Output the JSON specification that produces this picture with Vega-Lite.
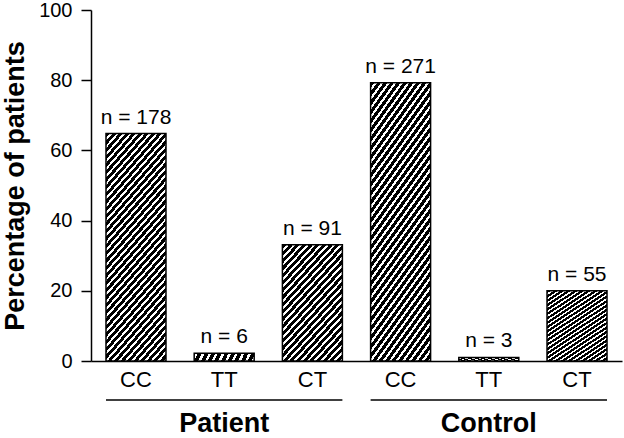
{
  "$schema": "https://vega.github.io/schema/vega-lite/v6.json",
  "autosize": "none",
  "width": 531,
  "height": 351,
  "padding": {"left": 91, "top": 10, "right": 2, "bottom": 77},
  "background": "white",
  "config": {
    "view": {"stroke": null},
    "font": "Liberation Sans",
    "axis": {"grid": false, "domainColor": "black", "domainWidth": 1.5, "tickColor": "black", "tickWidth": 1.5, "labelColor": "black", "titleColor": "black", "labelFont": "Liberation Sans", "titleFont": "Liberation Sans"}
  },
  "datasets": {
    "bars": [
      {"group": "Patient", "genotype": "CC", "key": "Patient|CC", "pct": 64.8, "label": "n = 178"},
      {"group": "Patient", "genotype": "TT", "key": "Patient|TT", "pct": 2.2, "label": "n = 6"},
      {"group": "Patient", "genotype": "CT", "key": "Patient|CT", "pct": 33.1, "label": "n = 91"},
      {"group": "Control", "genotype": "CC", "key": "Control|CC", "pct": 79.3, "label": "n = 271"},
      {"group": "Control", "genotype": "TT", "key": "Control|TT", "pct": 1.0, "label": "n = 3"},
      {"group": "Control", "genotype": "CT", "key": "Control|CT", "pct": 20.0, "label": "n = 55"}
    ],
    "groups": [
      {"group": "Patient", "first": "Patient|CC", "mid": "Patient|TT", "last": "Patient|CT"},
      {"group": "Control", "first": "Control|CC", "mid": "Control|TT", "last": "Control|CT"}
    ]
  },
  "layer": [
    {
      "data": {"name": "bars"},
      "mark": {"type": "bar", "stroke": "black", "strokeWidth": 1.5},
      "encoding": {
        "x": {
          "field": "key", "type": "nominal",
          "scale": {"domain": ["Patient|CC", "Patient|TT", "Patient|CT", "Control|CC", "Control|TT", "Control|CT"], "paddingInner": 0.32, "paddingOuter": 0.17},
          "axis": {"title": null, "ticks": false, "labelAngle": 0, "labelFontSize": 22, "labelPadding": 8, "labelExpr": "split(datum.value, '|')[1]"}
        },
        "y": {
          "field": "pct", "type": "quantitative",
          "scale": {"domain": [0, 100], "nice": false},
          "axis": {"title": "Percentage of patients", "titleFontSize": 27, "titleFontWeight": "bold", "titlePadding": 9, "values": [0, 20, 40, 60, 80, 100], "tickSize": 10, "labelFontSize": 20, "labelPadding": 9}
        },
        "fill": {
          "condition": {
            "test": "datum.pct < 50",
            "value": {
              "gradient": "linear",
              "x1": 0, "y1": 0, "x2": 0.668, "y2": 1.187,
              "stops": [
                {"offset": 0.0, "color": "#000"}, {"offset": 0.024, "color": "#000"}, {"offset": 0.024, "color": "#fff"}, {"offset": 0.04, "color": "#fff"},
                {"offset": 0.04, "color": "#000"}, {"offset": 0.064, "color": "#000"}, {"offset": 0.064, "color": "#fff"}, {"offset": 0.08, "color": "#fff"},
                {"offset": 0.08, "color": "#000"}, {"offset": 0.104, "color": "#000"}, {"offset": 0.104, "color": "#fff"}, {"offset": 0.12, "color": "#fff"},
                {"offset": 0.12, "color": "#000"}, {"offset": 0.144, "color": "#000"}, {"offset": 0.144, "color": "#fff"}, {"offset": 0.16, "color": "#fff"},
                {"offset": 0.16, "color": "#000"}, {"offset": 0.184, "color": "#000"}, {"offset": 0.184, "color": "#fff"}, {"offset": 0.2, "color": "#fff"},
                {"offset": 0.2, "color": "#000"}, {"offset": 0.224, "color": "#000"}, {"offset": 0.224, "color": "#fff"}, {"offset": 0.24, "color": "#fff"},
                {"offset": 0.24, "color": "#000"}, {"offset": 0.264, "color": "#000"}, {"offset": 0.264, "color": "#fff"}, {"offset": 0.28, "color": "#fff"},
                {"offset": 0.28, "color": "#000"}, {"offset": 0.304, "color": "#000"}, {"offset": 0.304, "color": "#fff"}, {"offset": 0.32, "color": "#fff"},
                {"offset": 0.32, "color": "#000"}, {"offset": 0.344, "color": "#000"}, {"offset": 0.344, "color": "#fff"}, {"offset": 0.36, "color": "#fff"},
                {"offset": 0.36, "color": "#000"}, {"offset": 0.384, "color": "#000"}, {"offset": 0.384, "color": "#fff"}, {"offset": 0.4, "color": "#fff"},
                {"offset": 0.4, "color": "#000"}, {"offset": 0.424, "color": "#000"}, {"offset": 0.424, "color": "#fff"}, {"offset": 0.44, "color": "#fff"},
                {"offset": 0.44, "color": "#000"}, {"offset": 0.464, "color": "#000"}, {"offset": 0.464, "color": "#fff"}, {"offset": 0.48, "color": "#fff"},
                {"offset": 0.48, "color": "#000"}, {"offset": 0.504, "color": "#000"}, {"offset": 0.504, "color": "#fff"}, {"offset": 0.52, "color": "#fff"},
                {"offset": 0.52, "color": "#000"}, {"offset": 0.544, "color": "#000"}, {"offset": 0.544, "color": "#fff"}, {"offset": 0.56, "color": "#fff"},
                {"offset": 0.56, "color": "#000"}, {"offset": 0.584, "color": "#000"}, {"offset": 0.584, "color": "#fff"}, {"offset": 0.6, "color": "#fff"},
                {"offset": 0.6, "color": "#000"}, {"offset": 0.624, "color": "#000"}, {"offset": 0.624, "color": "#fff"}, {"offset": 0.64, "color": "#fff"},
                {"offset": 0.64, "color": "#000"}, {"offset": 0.664, "color": "#000"}, {"offset": 0.664, "color": "#fff"}, {"offset": 0.68, "color": "#fff"},
                {"offset": 0.68, "color": "#000"}, {"offset": 0.704, "color": "#000"}, {"offset": 0.704, "color": "#fff"}, {"offset": 0.72, "color": "#fff"},
                {"offset": 0.72, "color": "#000"}, {"offset": 0.744, "color": "#000"}, {"offset": 0.744, "color": "#fff"}, {"offset": 0.76, "color": "#fff"},
                {"offset": 0.76, "color": "#000"}, {"offset": 0.784, "color": "#000"}, {"offset": 0.784, "color": "#fff"}, {"offset": 0.8, "color": "#fff"},
                {"offset": 0.8, "color": "#000"}, {"offset": 0.824, "color": "#000"}, {"offset": 0.824, "color": "#fff"}, {"offset": 0.84, "color": "#fff"},
                {"offset": 0.84, "color": "#000"}, {"offset": 0.864, "color": "#000"}, {"offset": 0.864, "color": "#fff"}, {"offset": 0.88, "color": "#fff"},
                {"offset": 0.88, "color": "#000"}, {"offset": 0.904, "color": "#000"}, {"offset": 0.904, "color": "#fff"}, {"offset": 0.92, "color": "#fff"},
                {"offset": 0.92, "color": "#000"}, {"offset": 0.944, "color": "#000"}, {"offset": 0.944, "color": "#fff"}, {"offset": 0.96, "color": "#fff"},
                {"offset": 0.96, "color": "#000"}, {"offset": 0.984, "color": "#000"}, {"offset": 0.984, "color": "#fff"}, {"offset": 1.0, "color": "#fff"}
              ]
            }
          },
          "value": {
            "gradient": "linear",
            "x1": 0, "y1": 0, "x2": 0.356, "y2": 1.192,
            "stops": [
              {"offset": 0.0, "color": "#000"}, {"offset": 0.015, "color": "#000"}, {"offset": 0.015, "color": "#fff"}, {"offset": 0.025, "color": "#fff"},
              {"offset": 0.025, "color": "#000"}, {"offset": 0.04, "color": "#000"}, {"offset": 0.04, "color": "#fff"}, {"offset": 0.05, "color": "#fff"},
              {"offset": 0.05, "color": "#000"}, {"offset": 0.065, "color": "#000"}, {"offset": 0.065, "color": "#fff"}, {"offset": 0.075, "color": "#fff"},
              {"offset": 0.075, "color": "#000"}, {"offset": 0.09, "color": "#000"}, {"offset": 0.09, "color": "#fff"}, {"offset": 0.1, "color": "#fff"},
              {"offset": 0.1, "color": "#000"}, {"offset": 0.115, "color": "#000"}, {"offset": 0.115, "color": "#fff"}, {"offset": 0.125, "color": "#fff"},
              {"offset": 0.125, "color": "#000"}, {"offset": 0.14, "color": "#000"}, {"offset": 0.14, "color": "#fff"}, {"offset": 0.15, "color": "#fff"},
              {"offset": 0.15, "color": "#000"}, {"offset": 0.165, "color": "#000"}, {"offset": 0.165, "color": "#fff"}, {"offset": 0.175, "color": "#fff"},
              {"offset": 0.175, "color": "#000"}, {"offset": 0.19, "color": "#000"}, {"offset": 0.19, "color": "#fff"}, {"offset": 0.2, "color": "#fff"},
              {"offset": 0.2, "color": "#000"}, {"offset": 0.215, "color": "#000"}, {"offset": 0.215, "color": "#fff"}, {"offset": 0.225, "color": "#fff"},
              {"offset": 0.225, "color": "#000"}, {"offset": 0.24, "color": "#000"}, {"offset": 0.24, "color": "#fff"}, {"offset": 0.25, "color": "#fff"},
              {"offset": 0.25, "color": "#000"}, {"offset": 0.265, "color": "#000"}, {"offset": 0.265, "color": "#fff"}, {"offset": 0.275, "color": "#fff"},
              {"offset": 0.275, "color": "#000"}, {"offset": 0.29, "color": "#000"}, {"offset": 0.29, "color": "#fff"}, {"offset": 0.3, "color": "#fff"},
              {"offset": 0.3, "color": "#000"}, {"offset": 0.315, "color": "#000"}, {"offset": 0.315, "color": "#fff"}, {"offset": 0.325, "color": "#fff"},
              {"offset": 0.325, "color": "#000"}, {"offset": 0.34, "color": "#000"}, {"offset": 0.34, "color": "#fff"}, {"offset": 0.35, "color": "#fff"},
              {"offset": 0.35, "color": "#000"}, {"offset": 0.365, "color": "#000"}, {"offset": 0.365, "color": "#fff"}, {"offset": 0.375, "color": "#fff"},
              {"offset": 0.375, "color": "#000"}, {"offset": 0.39, "color": "#000"}, {"offset": 0.39, "color": "#fff"}, {"offset": 0.4, "color": "#fff"},
              {"offset": 0.4, "color": "#000"}, {"offset": 0.415, "color": "#000"}, {"offset": 0.415, "color": "#fff"}, {"offset": 0.425, "color": "#fff"},
              {"offset": 0.425, "color": "#000"}, {"offset": 0.44, "color": "#000"}, {"offset": 0.44, "color": "#fff"}, {"offset": 0.45, "color": "#fff"},
              {"offset": 0.45, "color": "#000"}, {"offset": 0.465, "color": "#000"}, {"offset": 0.465, "color": "#fff"}, {"offset": 0.475, "color": "#fff"},
              {"offset": 0.475, "color": "#000"}, {"offset": 0.49, "color": "#000"}, {"offset": 0.49, "color": "#fff"}, {"offset": 0.5, "color": "#fff"},
              {"offset": 0.5, "color": "#000"}, {"offset": 0.515, "color": "#000"}, {"offset": 0.515, "color": "#fff"}, {"offset": 0.525, "color": "#fff"},
              {"offset": 0.525, "color": "#000"}, {"offset": 0.54, "color": "#000"}, {"offset": 0.54, "color": "#fff"}, {"offset": 0.55, "color": "#fff"},
              {"offset": 0.55, "color": "#000"}, {"offset": 0.565, "color": "#000"}, {"offset": 0.565, "color": "#fff"}, {"offset": 0.575, "color": "#fff"},
              {"offset": 0.575, "color": "#000"}, {"offset": 0.59, "color": "#000"}, {"offset": 0.59, "color": "#fff"}, {"offset": 0.6, "color": "#fff"},
              {"offset": 0.6, "color": "#000"}, {"offset": 0.615, "color": "#000"}, {"offset": 0.615, "color": "#fff"}, {"offset": 0.625, "color": "#fff"},
              {"offset": 0.625, "color": "#000"}, {"offset": 0.64, "color": "#000"}, {"offset": 0.64, "color": "#fff"}, {"offset": 0.65, "color": "#fff"},
              {"offset": 0.65, "color": "#000"}, {"offset": 0.665, "color": "#000"}, {"offset": 0.665, "color": "#fff"}, {"offset": 0.675, "color": "#fff"},
              {"offset": 0.675, "color": "#000"}, {"offset": 0.69, "color": "#000"}, {"offset": 0.69, "color": "#fff"}, {"offset": 0.7, "color": "#fff"},
              {"offset": 0.7, "color": "#000"}, {"offset": 0.715, "color": "#000"}, {"offset": 0.715, "color": "#fff"}, {"offset": 0.725, "color": "#fff"},
              {"offset": 0.725, "color": "#000"}, {"offset": 0.74, "color": "#000"}, {"offset": 0.74, "color": "#fff"}, {"offset": 0.75, "color": "#fff"},
              {"offset": 0.75, "color": "#000"}, {"offset": 0.765, "color": "#000"}, {"offset": 0.765, "color": "#fff"}, {"offset": 0.775, "color": "#fff"},
              {"offset": 0.775, "color": "#000"}, {"offset": 0.79, "color": "#000"}, {"offset": 0.79, "color": "#fff"}, {"offset": 0.8, "color": "#fff"},
              {"offset": 0.8, "color": "#000"}, {"offset": 0.815, "color": "#000"}, {"offset": 0.815, "color": "#fff"}, {"offset": 0.825, "color": "#fff"},
              {"offset": 0.825, "color": "#000"}, {"offset": 0.84, "color": "#000"}, {"offset": 0.84, "color": "#fff"}, {"offset": 0.85, "color": "#fff"},
              {"offset": 0.85, "color": "#000"}, {"offset": 0.865, "color": "#000"}, {"offset": 0.865, "color": "#fff"}, {"offset": 0.875, "color": "#fff"},
              {"offset": 0.875, "color": "#000"}, {"offset": 0.89, "color": "#000"}, {"offset": 0.89, "color": "#fff"}, {"offset": 0.9, "color": "#fff"},
              {"offset": 0.9, "color": "#000"}, {"offset": 0.915, "color": "#000"}, {"offset": 0.915, "color": "#fff"}, {"offset": 0.925, "color": "#fff"},
              {"offset": 0.925, "color": "#000"}, {"offset": 0.94, "color": "#000"}, {"offset": 0.94, "color": "#fff"}, {"offset": 0.95, "color": "#fff"},
              {"offset": 0.95, "color": "#000"}, {"offset": 0.965, "color": "#000"}, {"offset": 0.965, "color": "#fff"}, {"offset": 0.975, "color": "#fff"},
              {"offset": 0.975, "color": "#000"}, {"offset": 0.99, "color": "#000"}, {"offset": 0.99, "color": "#fff"}, {"offset": 1.0, "color": "#fff"}
            ]
          }
        }
      }
    },
    {
      "data": {"name": "bars"},
      "mark": {"type": "text", "baseline": "alphabetic", "dy": -10, "fontSize": 21, "color": "black"},
      "encoding": {
        "x": {"field": "key", "type": "nominal",
          "axis": {"title": null, "ticks": false, "labelAngle": 0, "labelFontSize": 22, "labelPadding": 8, "labelExpr": "split(datum.value, '|')[1]"}},
        "y": {"field": "pct", "type": "quantitative", "scale": {"domain": [0, 100], "nice": false}},
        "text": {"field": "label", "type": "nominal"}
      }
    },
    {
      "data": {"name": "groups"},
      "mark": {"type": "rule", "color": "black", "strokeWidth": 1.5},
      "encoding": {
        "x": {"field": "first", "type": "nominal", "bandPosition": 0,
          "axis": {"title": null, "ticks": false, "labelAngle": 0, "labelFontSize": 22, "labelPadding": 8, "labelExpr": "split(datum.value, '|')[1]"}},
        "x2": {"field": "last", "bandPosition": 1},
        "y": {"datum": -11.1, "type": "quantitative", "scale": {"domain": [0, 100], "nice": false}}
      }
    },
    {
      "data": {"name": "groups"},
      "mark": {"type": "text", "baseline": "bottom", "fontSize": 27, "fontWeight": "bold", "color": "black"},
      "encoding": {
        "x": {"field": "mid", "type": "nominal",
          "axis": {"title": null, "ticks": false, "labelAngle": 0, "labelFontSize": 22, "labelPadding": 8, "labelExpr": "split(datum.value, '|')[1]"}},
        "y": {"datum": -21.9, "type": "quantitative", "scale": {"domain": [0, 100], "nice": false}},
        "text": {"field": "group", "type": "nominal"}
      }
    }
  ]
}
